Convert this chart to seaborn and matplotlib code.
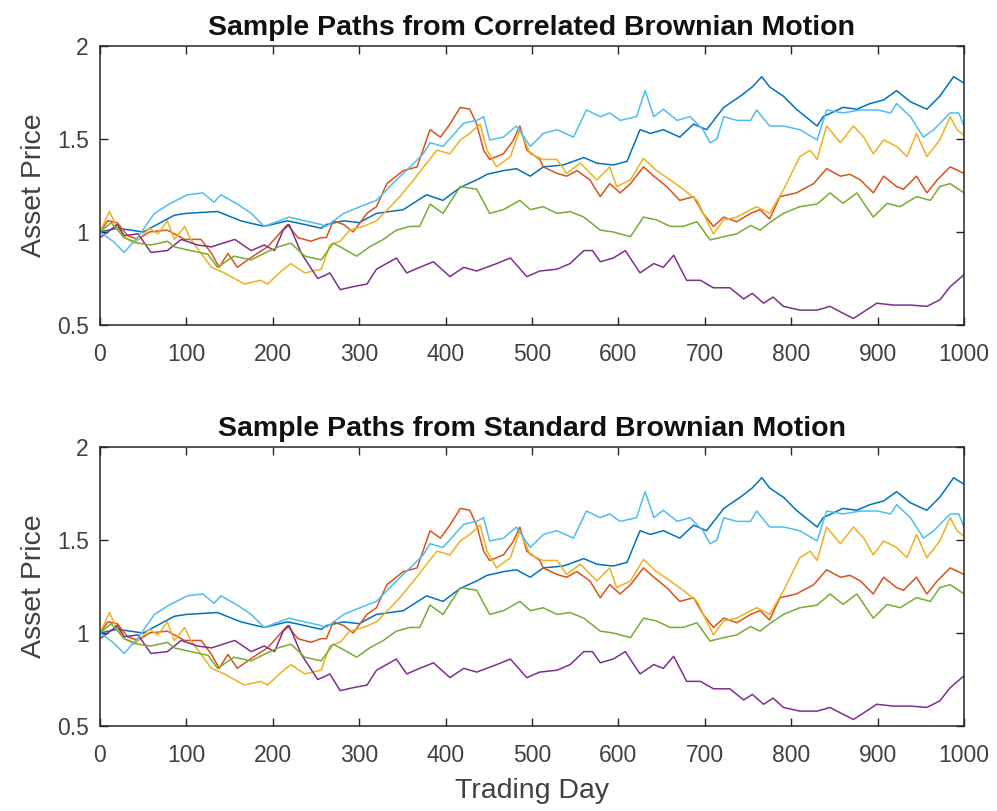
import matplotlib
matplotlib.use("Agg")
import matplotlib.pyplot as plt
import seaborn as sns
import pandas as pd

# ---- data (trading day, asset price) ----
days_s1 = [0, 20, 50, 86, 100, 136, 163, 190, 217, 237, 256, 262, 282, 300, 320, 351, 378, 397, 417, 436,
           448, 467, 482, 498, 513, 536, 560, 575, 594, 610, 625, 637, 652, 671, 687, 702, 722, 741, 755,
           766, 775, 791, 806, 830, 837, 860, 876, 891, 907, 922, 938, 957, 972, 988, 1000]
vals_s1 = [1.0, 1.02, 1.0, 1.09, 1.10, 1.11, 1.06, 1.03, 1.06, 1.04, 1.02, 1.04, 1.06, 1.05, 1.10, 1.12,
           1.20, 1.17, 1.24, 1.28, 1.31, 1.33, 1.34, 1.30, 1.35, 1.36, 1.40, 1.37, 1.36, 1.38, 1.55, 1.53,
           1.55, 1.51, 1.58, 1.55, 1.67, 1.73, 1.78, 1.835, 1.78, 1.73, 1.66, 1.57, 1.62, 1.67, 1.66, 1.69,
           1.71, 1.76, 1.70, 1.66, 1.73, 1.835, 1.80]

days_s2 = [0, 9, 20, 32, 44, 57, 78, 98, 117, 129, 138, 148, 159, 171, 182, 194, 217, 229, 244, 256, 262,
           270, 282, 293, 309, 320, 332, 351, 367, 382, 394, 405, 417, 428, 436, 444, 451, 467, 478, 486,
           494, 509, 513, 529, 540, 552, 567, 579, 590, 602, 614, 629, 641, 656, 671, 687, 698, 710, 722,
           737, 753, 764, 775, 787, 806, 826, 841, 857, 868, 880, 895, 907, 922, 930, 945, 957, 969, 984, 1000]
vals_s2 = [1.0, 1.06, 1.05, 0.98, 0.96, 1.0, 1.01, 0.96, 0.96, 0.885, 0.81, 0.885, 0.81, 0.85, 0.885,
           0.92, 1.04, 0.97, 0.95, 0.97, 0.97, 1.06, 1.04, 1.0, 1.10, 1.136, 1.26, 1.33, 1.35, 1.55, 1.51,
           1.58, 1.67, 1.66, 1.58, 1.44, 1.39, 1.42, 1.49, 1.57, 1.44, 1.39, 1.35, 1.315, 1.30, 1.33, 1.28,
           1.19, 1.26, 1.21, 1.26, 1.35, 1.30, 1.244, 1.17, 1.19, 1.10, 1.03, 1.08, 1.055, 1.10, 1.12, 1.07,
           1.19, 1.21, 1.26, 1.34, 1.30, 1.31, 1.28, 1.21, 1.30, 1.244, 1.23, 1.30, 1.21, 1.28, 1.35, 1.315]

days_s3 = [0, 11, 19, 28, 40, 57, 67, 78, 86, 98, 105, 129, 144, 167, 186, 194, 210, 221, 237, 256, 266,
           278, 289, 305, 320, 336, 347, 363, 378, 390, 405, 417, 428, 440, 448, 459, 475, 486, 498, 513,
           529, 540, 556, 575, 590, 598, 614, 629, 644, 660, 675, 691, 702, 710, 722, 737, 753, 760, 775,
           791, 810, 822, 830, 841, 857, 872, 884, 895, 907, 922, 934, 945, 957, 972, 984, 992, 1000]
vals_s3 = [1.0, 1.11, 1.03, 0.97, 0.94, 1.02, 0.99, 1.06, 0.96, 1.03, 0.96, 0.81, 0.78, 0.72, 0.74, 0.72,
           0.79, 0.83, 0.78, 0.80, 0.93, 0.95, 1.01, 1.03, 1.06, 1.136, 1.19, 1.28, 1.37, 1.44, 1.42, 1.495,
           1.53, 1.58, 1.44, 1.35, 1.405, 1.55, 1.42, 1.39, 1.39, 1.315, 1.37, 1.28, 1.35, 1.244, 1.28, 1.396,
           1.33, 1.28, 1.23, 1.17, 1.065, 0.99, 1.065, 1.08, 1.12, 1.136, 1.10, 1.226, 1.405, 1.44, 1.39,
           1.57, 1.48, 1.57, 1.51, 1.42, 1.495, 1.46, 1.405, 1.53, 1.405, 1.495, 1.62, 1.55, 1.52]

days_s4 = [0, 9, 20, 28, 44, 59, 78, 94, 113, 129, 156, 175, 190, 202, 212, 219, 233, 252, 262, 266, 278,
           293, 309, 320, 343, 355, 370, 386, 405, 421, 436, 459, 475, 494, 509, 529, 544, 560, 570, 579,
           594, 608, 625, 641, 652, 664, 679, 695, 710, 729, 745, 755, 768, 779, 791, 810, 830, 845, 860,
           872, 887, 899, 918, 938, 957, 972, 984, 1000]
vals_s4 = [0.97, 1.0, 1.04, 0.98, 0.99, 0.89, 0.90, 0.96, 0.93, 0.92, 0.96, 0.90, 0.93, 0.90, 1.01, 1.04,
           0.885, 0.75, 0.77, 0.78, 0.69, 0.706, 0.72, 0.80, 0.86, 0.78, 0.81, 0.84, 0.76, 0.81, 0.79, 0.83,
           0.86, 0.76, 0.79, 0.80, 0.83, 0.90, 0.90, 0.84, 0.86, 0.90, 0.78, 0.83, 0.81, 0.875, 0.74, 0.74,
           0.70, 0.70, 0.64, 0.67, 0.617, 0.65, 0.60, 0.58, 0.58, 0.60, 0.563, 0.535, 0.58, 0.617, 0.607,
           0.607, 0.60, 0.635, 0.706, 0.77]

days_s5 = [0, 13, 28, 44, 59, 78, 86, 105, 125, 136, 155, 175, 190, 206, 221, 237, 256, 270, 282, 297, 312,
           328, 343, 359, 370, 382, 397, 417, 436, 451, 467, 486, 498, 513, 529, 544, 560, 579, 594, 614,
           629, 644, 660, 675, 691, 706, 722, 737, 753, 764, 775, 791, 810, 830, 845, 860, 876, 895, 911,
           926, 945, 961, 972, 984, 1000]
vals_s5 = [1.0, 1.05, 0.97, 0.94, 0.93, 0.95, 0.92, 0.90, 0.88, 0.81, 0.87, 0.85, 0.885, 0.92, 0.94, 0.87,
           0.85, 0.94, 0.91, 0.87, 0.92, 0.96, 1.01, 1.03, 1.03, 1.15, 1.10, 1.244, 1.23, 1.10, 1.12, 1.17,
           1.12, 1.136, 1.10, 1.11, 1.08, 1.01, 1.0, 0.975, 1.08, 1.065, 1.03, 1.03, 1.055, 0.957, 0.975,
           0.99, 1.035, 1.01, 1.05, 1.10, 1.136, 1.15, 1.21, 1.154, 1.21, 1.08, 1.154, 1.136, 1.19, 1.17,
           1.244, 1.26, 1.21]

days_s6 = [0, 15, 28, 45, 63, 80, 101, 119, 132, 140, 159, 175, 190, 219, 237, 256, 262, 282, 301, 320,
           343, 359, 374, 382, 397, 421, 436, 444, 451, 467, 482, 498, 509, 513, 529, 548, 563, 579, 590,
           602, 621, 631, 641, 652, 668, 683, 698, 706, 714, 722, 737, 753, 760, 775, 791, 810, 830, 841,
           860, 880, 900, 915, 922, 938, 953, 965, 984, 994, 1000]
vals_s6 = [1.0, 0.95, 0.89, 0.98, 1.10, 1.15, 1.20, 1.21, 1.16, 1.20, 1.15, 1.10, 1.03, 1.08, 1.06, 1.04,
           1.03, 1.10, 1.136, 1.17, 1.28, 1.35, 1.42, 1.48, 1.46, 1.585, 1.60, 1.62, 1.495, 1.51, 1.57, 1.46,
           1.51, 1.53, 1.55, 1.51, 1.656, 1.62, 1.64, 1.60, 1.62, 1.76, 1.62, 1.66, 1.60, 1.62, 1.55, 1.48,
           1.50, 1.62, 1.60, 1.60, 1.656, 1.57, 1.57, 1.55, 1.495, 1.656, 1.64, 1.656, 1.656, 1.64, 1.69,
           1.62, 1.51, 1.55, 1.64, 1.64, 1.57]

series_names = ["Path 1", "Path 2", "Path 3", "Path 4", "Path 5", "Path 6"]
series_days = [days_s1, days_s2, days_s3, days_s4, days_s5, days_s6]
series_vals = [vals_s1, vals_s2, vals_s3, vals_s4, vals_s5, vals_s6]
colors = ["#0072BD", "#D95319", "#EDB120", "#7E2F8E", "#77AC30", "#4DBEEE"]

titles = ["Sample Paths from Correlated Brownian Motion", "Sample Paths from Standard Brownian Motion"]
x_ticks = [0, 100, 200, 300, 400, 500, 600, 700, 800, 900, 1000]
y_ticks = [0.5, 1, 1.5, 2]
y_ticklabels = ["0.5", "1", "1.5", "2"]

frames = []
for name, d, v in zip(series_names, series_days, series_vals):
    frames.append(pd.DataFrame({"day": d, "price": v, "path": name}))
df = pd.concat(frames, ignore_index=True)

sns.set_theme(style="white")
plt.rcParams["font.family"] = ["Liberation Sans", "DejaVu Sans"]

axc = "#262626"
fig = plt.figure(figsize=(9.97, 8.11), dpi=100)
positions = [[0.1003, 0.5993, 0.8666, 0.3440], [0.1003, 0.1048, 0.8666, 0.3440]]

for i, pos in enumerate(positions):
    ax = fig.add_axes(pos)
    sns.lineplot(data=df, x="day", y="price", hue="path", palette=colors, ax=ax,
                 legend=False, linewidth=1.1, sort=False, estimator=None)
    ax.set_xlim(0, 1000)
    ax.set_ylim(0.5, 2)
    ax.set_xticks(x_ticks)
    ax.set_xticklabels([str(t) for t in x_ticks])
    ax.set_yticks(y_ticks)
    ax.set_yticklabels(y_ticklabels)
    ax.tick_params(direction="in", length=6, width=1.0, colors=axc, labelcolor="#404040",
                   labelsize=16.5, top=True, right=True, left=True, bottom=True)
    ax.tick_params(axis="x", pad=13)
    ax.tick_params(axis="y", pad=8)
    for sp in ax.spines.values():
        sp.set_color(axc)
        sp.set_linewidth(1.1)
    ax.set_title(titles[i], fontsize=20.5, fontweight="bold", color="#111111", pad=8)
    ax.set_ylabel("Asset Price", fontsize=20.5, color="#404040", labelpad=7)
    if i == 1:
        ax.set_xlabel("Trading Day", fontsize=20.5, color="#404040", labelpad=8)
    else:
        ax.set_xlabel("")

fig.savefig("out.png", dpi=100)
